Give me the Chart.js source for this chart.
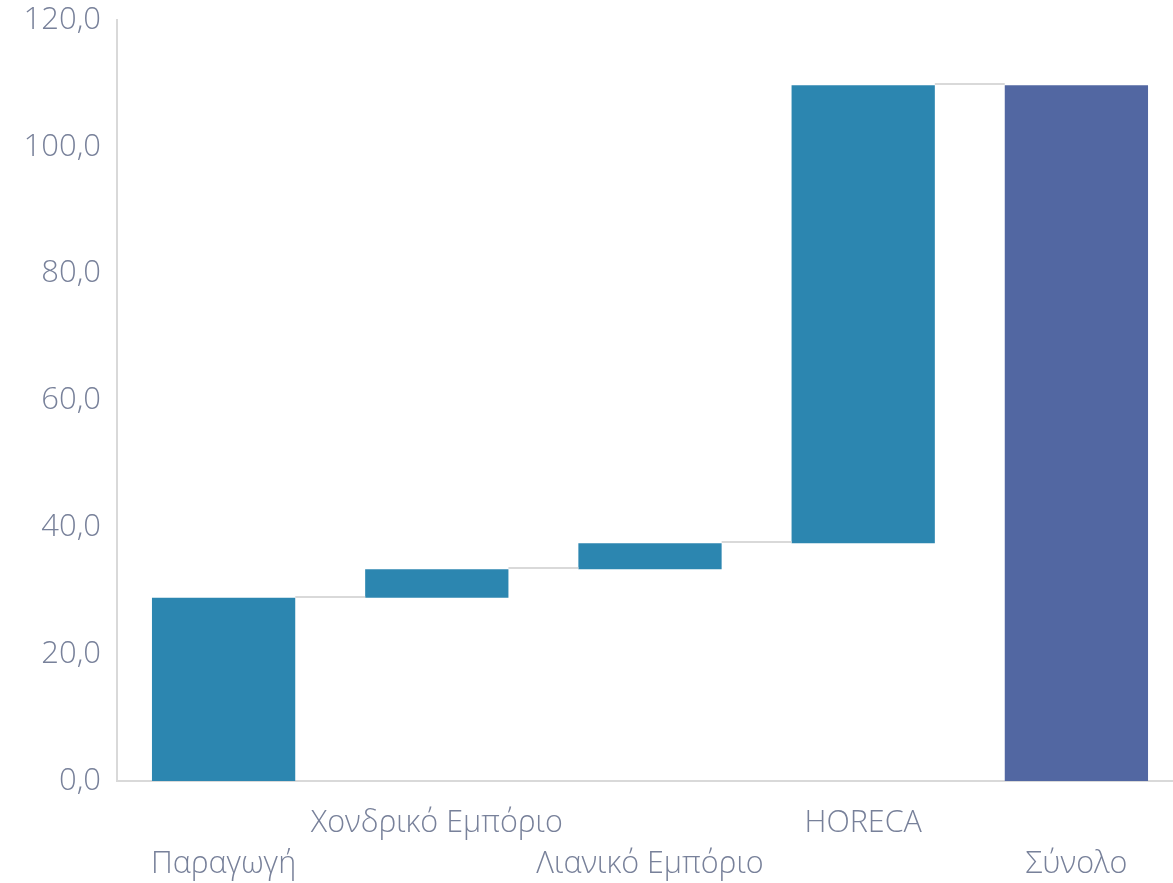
<!DOCTYPE html>
<html>
<head>
<meta charset="utf-8">
<script src="https://cdn.jsdelivr.net/npm/chart.js@4"></script>
<style>
  html, body { margin: 0; padding: 0; background: #fff; overflow: hidden; }
  /* plot runs slightly past the right edge of the window, as in the original */
  #wrap { width: 1183px; height: 883px; position: relative; }
</style>
</head>
<body>
<div id="wrap"><canvas id="waterfall"></canvas></div>
<script>
var categories = ['Παραγωγή', 'Χονδρικό Εμπόριο', 'Λιανικό Εμπόριο', 'HORECA', 'Σύνολο'];
var steps = [28.9, 4.5, 4.1, 72.2];
var yTicks = [0, 20, 40, 60, 80, 100, 120];

var STEP_COLOR = '#2c86b0';
var TOTAL_COLOR = '#5267a2';
var TEXT_COLOR = '#78819a';
var LINE_COLOR = '#d9d9d9';

// floating bars: each step starts where the previous ended, last bar is the total
var ranges = [];
var running = 0;
steps.forEach(function(v) {
    ranges.push([running, running + v]);
    running += v;
});
ranges.push([0, running]);

var colors = categories.map(function(_, i) { return i === categories.length - 1 ? TOTAL_COLOR : STEP_COLOR; });

// stagger labels over two rows like the original
var xLabels = categories.map(function(c, i) { return i % 2 === 0 ? ['', c] : [c, '']; });

var connectors = {
    id: 'connectors',
    afterDatasetsDraw: function(chart) {
        var meta = chart.getDatasetMeta(0);
        var y = chart.scales.y;
        var ctx = chart.ctx;
        ctx.save();
        ctx.strokeStyle = LINE_COLOR;
        ctx.lineWidth = 2;
        for (var i = 0; i < meta.data.length - 1; i++) {
            var a = meta.data[i], b = meta.data[i + 1];
            var level = Math.round(y.getPixelForValue(ranges[i][1])) - 1;
            ctx.beginPath();
            ctx.moveTo(a.x + a.width / 2, level);
            ctx.lineTo(b.x - b.width / 2, level);
            ctx.stroke();
        }
        ctx.restore();
    }
};

new Chart(document.getElementById('waterfall'), {
    type: 'bar',
    data: {
        labels: xLabels,
        datasets: [{
            data: ranges,
            backgroundColor: colors,
            borderWidth: 0,
            barPercentage: 0.672,
            categoryPercentage: 1
        }]
    },
    plugins: [connectors],
    options: {
        responsive: true,
        maintainAspectRatio: false,
        animation: false,
        layout: { padding: 0 },
        plugins: {
            legend: { display: false },
            tooltip: { enabled: false }
        },
        scales: {
            x: {
                grid: { display: false },
                border: { display: true, color: LINE_COLOR, width: 2 },
                afterFit: function(scale) {
                    scale.height = 102;
                    scale.paddingLeft = 0;
                    scale.paddingRight = 0;
                },
                ticks: {
                    color: TEXT_COLOR,
                    font: { family: 'Open Sans', size: 30.5, weight: 300, lineHeight: 1.33 },
                    maxRotation: 0,
                    autoSkip: false,
                    padding: 14
                }
            },
            y: {
                min: yTicks[0],
                max: yTicks[yTicks.length - 1],
                grid: { display: false },
                border: { display: true, color: LINE_COLOR, width: 2 },
                afterBuildTicks: function(scale) {
                    scale.ticks = yTicks.map(function(v) { return { value: v }; });
                },
                afterFit: function(scale) {
                    scale.width = 117;
                    scale.paddingTop = 20;
                    scale.paddingBottom = 0;
                },
                ticks: {
                    color: TEXT_COLOR,
                    font: { family: 'Open Sans', size: 31, weight: 300 },
                    padding: 8,
                    callback: function(v) { return v.toFixed(1).replace('.', ','); }
                }
            }
        }
    }
});
</script>
</body>
</html>
